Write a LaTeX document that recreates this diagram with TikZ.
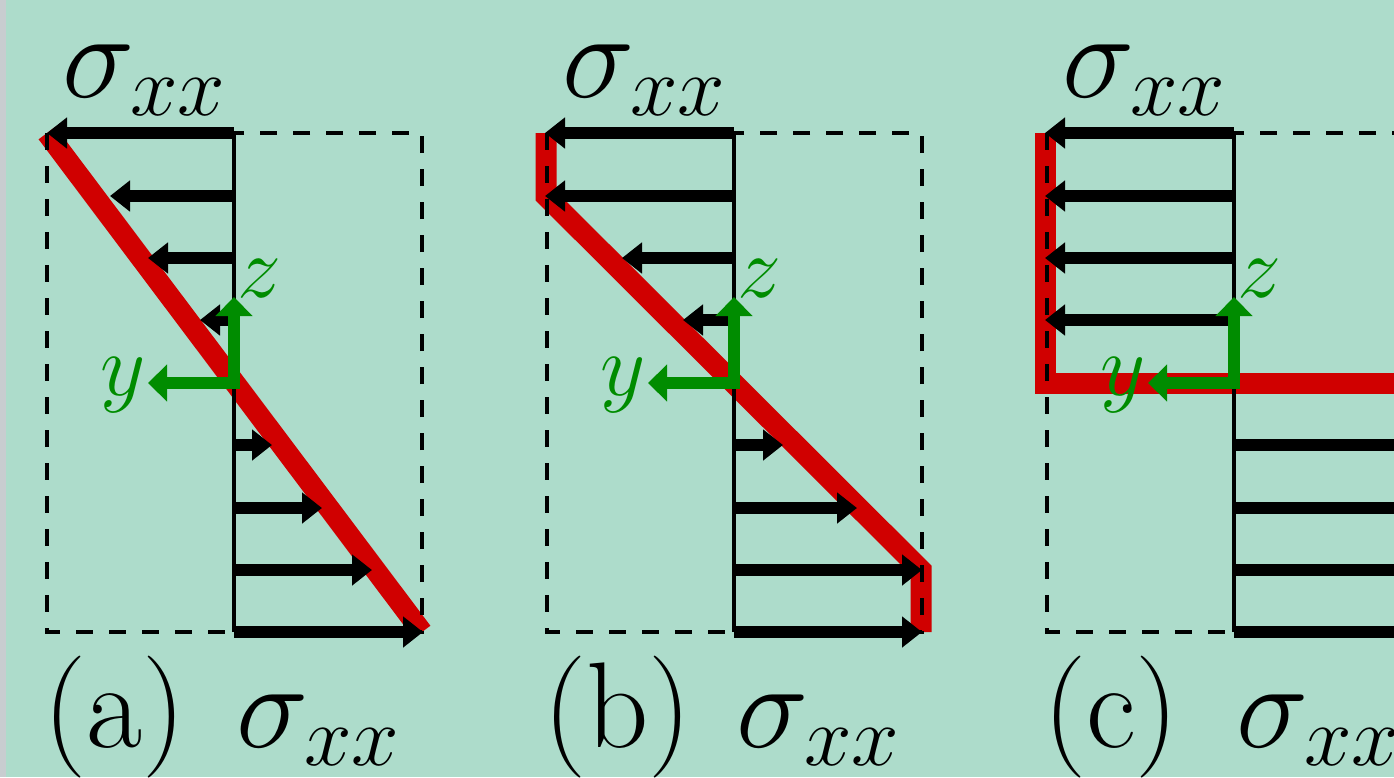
\RequirePackage{fix-cm}
\documentclass[tikz,border=0pt]{standalone}
\usepackage{fontspec,tikz,graphicx}
\usetikzlibrary{arrows.meta}
\definecolor{bgteal}{RGB}{173,220,203}
\definecolor{stripgray}{RGB}{200,205,208}
\definecolor{profred}{RGB}{208,0,0}
\definecolor{framegreen}{RGB}{0,140,0}

\begin{document}
\begin{tikzpicture}[x=1pt,y=-1pt,
  stress/.style={line width=12pt,-{Triangle[length=20pt,width=30pt]}},
  axisline/.style={line width=4pt},
  boxline/.style={line width=3.5pt,dash pattern=on 17pt off 16pt},
  profile/.style={line width=21pt,draw=profred,line join=miter,line cap=butt},
  coordframe/.style={line width=12pt,draw=framegreen,line join=miter,{Triangle[length=19pt,width=36pt]}-{Triangle[length=19pt,width=36pt]}},
  bigtext/.style={anchor=base west,inner sep=0pt,font=\fontsize{122}{122}\selectfont},
  axtext/.style={anchor=base west,inner sep=0pt,text=framegreen,font=\fontsize{88}{88}\selectfont}]
\path[use as bounding box] (0,0) rectangle (1394,777);
\fill[bgteal] (0,0) rectangle (1394,777);
\fill[stripgray] (0,0) rectangle (6,777);
\clip (0,0) rectangle (1394,777);
\draw[profile] (47,133) -- (422,632);
\draw[boxline] (47,133) rectangle (422,632);
\draw[stress] (234,133) -- (47,133);
\draw[stress] (234,196) -- (110,196);
\draw[stress] (234,258) -- (148,258);
\draw[stress] (234,320) -- (200,320);
\draw[stress] (234,445) -- (272,445);
\draw[stress] (234,508) -- (322,508);
\draw[stress] (234,570) -- (372,570);
\draw[stress] (234,632) -- (423,632);
\draw[axisline] (234,133) -- (234,632);
\draw[coordframe] (148,383) -- (234,383) -- (234,297);
\node[axtext] (zA) at (237,297) {$z$};
\node[axtext] (yA) at (100,395) {$y$};
\node[bigtext] (sigTopA) at (62,97) {$\sigma_{xx}$};
\node[bigtext] (labA) at (43,747) {(a)};
\node[bigtext] (sigBotA) at (236,747) {$\sigma_{xx}$};
\draw[profile] (546,133) -- (546,196) -- (921,570) -- (921,632);
\draw[boxline] (547,133) rectangle (922,632);
\draw[stress] (734,133) -- (545,133);
\draw[stress] (734,196) -- (545,196);
\draw[stress] (734,258) -- (622,258);
\draw[stress] (734,320) -- (683,320);
\draw[stress] (734,445) -- (783,445);
\draw[stress] (734,508) -- (857,508);
\draw[stress] (734,570) -- (922,570);
\draw[stress] (734,632) -- (922,632);
\draw[axisline] (734,133) -- (734,632);
\draw[coordframe] (648,383) -- (734,383) -- (734,297);
\node[axtext] (zB) at (737,297) {$z$};
\node[axtext] (yB) at (600,395) {$y$};
\node[bigtext] (sigTopB) at (562,97) {$\sigma_{xx}$};
\node[bigtext] (labB) at (543,747) {(b)};
\node[bigtext] (sigBotB) at (736,747) {$\sigma_{xx}$};
\draw[profile] (1045,133) -- (1045,383) -- (1421,383) -- (1421,632);
\draw[boxline] (1047,133) rectangle (1422,632);
\draw[stress] (1234,133) -- (1045,133);
\draw[stress] (1234,196) -- (1045,196);
\draw[stress] (1234,258) -- (1045,258);
\draw[stress] (1234,320) -- (1045,320);
\draw[stress] (1234,445) -- (1423,445);
\draw[stress] (1234,508) -- (1423,508);
\draw[stress] (1234,570) -- (1423,570);
\draw[stress] (1234,632) -- (1423,632);
\draw[axisline] (1234,133) -- (1234,632);
\draw[coordframe] (1148,383) -- (1234,383) -- (1234,297);
\node[axtext] (zC) at (1237,297) {$z$};
\node[axtext] (yC) at (1100,395) {$y$};
\node[bigtext] (sigTopC) at (1062,97) {$\sigma_{xx}$};
\node[bigtext] (labC) at (1043,747) {(c)};
\node[bigtext] (sigBotC) at (1236,747) {$\sigma_{xx}$};
\end{tikzpicture}
\end{document}
